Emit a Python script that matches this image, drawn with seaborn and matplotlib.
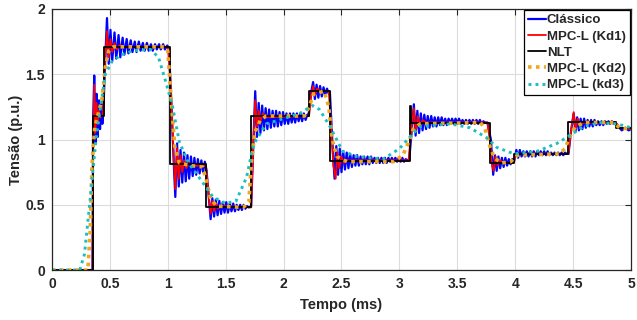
import matplotlib
matplotlib.use("Agg")
import matplotlib.pyplot as plt
import seaborn as sns
import pandas as pd

# Tempo (ms) / tensão (p.u.)
classico_t = [0.0, 0.35, 0.355, 0.365, 0.375, 0.385, 0.395, 0.405, 0.415, 0.425, 0.435, 0.445,
              0.46, 0.475, 0.49, 0.505, 0.52, 0.54, 0.555, 0.575, 0.59, 0.61, 0.625, 0.645, 0.66,
              0.68, 0.695, 0.715, 0.73, 0.75, 0.765, 0.785, 0.80, 0.82, 0.835, 0.855, 0.87, 0.89,
              0.905, 0.925, 0.94, 0.96, 0.975, 0.995, 1.01,
              1.03, 1.05, 1.065, 1.08, 1.095, 1.11, 1.125, 1.14, 1.155, 1.17, 1.185, 1.20, 1.215,
              1.23, 1.245, 1.26, 1.275, 1.29, 1.305, 1.32, 1.335,
              1.35, 1.37, 1.385, 1.40, 1.415, 1.43, 1.445, 1.46, 1.475, 1.49, 1.505, 1.52, 1.535,
              1.55, 1.565, 1.58, 1.595, 1.61, 1.625, 1.64, 1.655, 1.67, 1.685, 1.70, 1.72,
              1.74, 1.755, 1.77, 1.785, 1.80, 1.815, 1.83, 1.845, 1.86, 1.875, 1.89, 1.905, 1.92,
              1.935, 1.95, 1.965, 1.98, 1.995, 2.01, 2.025, 2.04, 2.055, 2.07, 2.085, 2.10, 2.115,
              2.13, 2.145, 2.16, 2.175, 2.19, 2.205, 2.215,
              2.235, 2.255, 2.27, 2.285, 2.30, 2.315, 2.33, 2.345, 2.36, 2.375, 2.39, 2.40,
              2.42, 2.44, 2.455, 2.47, 2.485, 2.50, 2.515, 2.53, 2.545, 2.56, 2.575, 2.59, 2.605,
              2.62, 2.635, 2.65, 2.665, 2.68, 2.695, 2.71, 2.725, 2.74, 2.755, 2.77, 2.785, 2.80,
              2.815, 2.83, 2.845, 2.86, 2.875, 2.89, 2.905, 2.92, 2.935, 2.95, 2.965, 2.98, 2.995,
              3.01, 3.025, 3.04, 3.055, 3.07, 3.085,
              3.10, 3.125, 3.14, 3.155, 3.17, 3.185, 3.20, 3.215, 3.23, 3.245, 3.26, 3.275, 3.29,
              3.305, 3.32, 3.335, 3.35, 3.365, 3.38, 3.395, 3.41, 3.425, 3.44, 3.455, 3.47, 3.485,
              3.50, 3.515, 3.53, 3.545, 3.56, 3.575, 3.59, 3.605, 3.62, 3.635, 3.65, 3.665, 3.68,
              3.695, 3.71, 3.725, 3.74, 3.76,
              3.79, 3.81, 3.825, 3.84, 3.855, 3.87, 3.885, 3.90, 3.915, 3.93, 3.945, 3.96, 3.975,
              3.99,
              4.01, 4.025, 4.04, 4.055, 4.07, 4.085, 4.10, 4.115, 4.13, 4.145, 4.16, 4.175, 4.19,
              4.205, 4.22, 4.235, 4.25, 4.265, 4.28, 4.295, 4.31, 4.325, 4.34, 4.355, 4.37, 4.385,
              4.40, 4.415, 4.43, 4.445, 4.46,
              4.48, 4.505, 4.52, 4.535, 4.55, 4.565, 4.58, 4.595, 4.61, 4.625, 4.64, 4.655, 4.67,
              4.685, 4.70, 4.715, 4.73, 4.745, 4.76, 4.775, 4.79, 4.805, 4.82, 4.835, 4.85, 4.865,
              4.89, 4.92, 4.95, 4.98, 5.0]
classico_v = [0.0, 0.0, 1.15, 1.49, 0.97, 1.35, 1.02, 1.30, 1.08, 1.27, 1.12, 1.25,
              1.62, 1.93, 1.58, 1.84, 1.60, 1.82, 1.62, 1.80, 1.63, 1.78, 1.65, 1.77, 1.66,
              1.76, 1.67, 1.75, 1.67, 1.75, 1.68, 1.74, 1.68, 1.74, 1.68, 1.73, 1.68, 1.73,
              1.69, 1.73, 1.69, 1.73, 1.69, 1.72, 1.70,
              1.30, 0.85, 0.56, 0.97, 0.64, 0.92, 0.67, 0.90, 0.68, 0.88, 0.70, 0.87, 0.72,
              0.86, 0.73, 0.85, 0.74, 0.84, 0.75, 0.83, 0.76,
              0.60, 0.39, 0.55, 0.41, 0.54, 0.42, 0.53, 0.43, 0.52, 0.44, 0.52, 0.44, 0.51,
              0.45, 0.51, 0.45, 0.50, 0.46, 0.50, 0.46, 0.50, 0.47, 0.49, 0.48, 0.49,
              1.00, 1.37, 1.02, 1.28, 1.05, 1.26, 1.07, 1.24, 1.08, 1.23, 1.09, 1.22, 1.10,
              1.22, 1.10, 1.21, 1.11, 1.21, 1.12, 1.20, 1.12, 1.20, 1.13, 1.20, 1.13, 1.20,
              1.14, 1.20, 1.14, 1.20, 1.15, 1.19, 1.18,
              1.35, 1.44, 1.31, 1.42, 1.32, 1.41, 1.33, 1.40, 1.34, 1.39, 1.35, 1.36,
              1.00, 0.70, 0.95, 0.73, 0.93, 0.75, 0.91, 0.77, 0.90, 0.78, 0.89, 0.79, 0.88,
              0.80, 0.88, 0.80, 0.87, 0.81, 0.87, 0.81, 0.87, 0.81, 0.87, 0.82, 0.86, 0.82,
              0.86, 0.82, 0.86, 0.82, 0.86, 0.82, 0.86, 0.83, 0.86, 0.83, 0.86, 0.83, 0.86,
              0.83, 0.86, 0.83, 0.85, 0.84, 0.85,
              1.00, 1.27, 1.03, 1.22, 1.05, 1.20, 1.07, 1.19, 1.08, 1.18, 1.09, 1.18, 1.10,
              1.17, 1.10, 1.17, 1.11, 1.17, 1.11, 1.16, 1.11, 1.16, 1.12, 1.16, 1.12, 1.16,
              1.12, 1.16, 1.12, 1.15, 1.12, 1.15, 1.12, 1.15, 1.12, 1.15, 1.12, 1.15, 1.12,
              1.15, 1.12, 1.14, 1.13, 1.13,
              1.00, 0.73, 0.88, 0.76, 0.87, 0.78, 0.86, 0.79, 0.86, 0.80, 0.85, 0.81, 0.85,
              0.83,
              0.92, 0.86, 0.92, 0.87, 0.91, 0.87, 0.91, 0.87, 0.91, 0.87, 0.91, 0.87, 0.91,
              0.88, 0.91, 0.88, 0.91, 0.88, 0.91, 0.88, 0.90, 0.88, 0.90, 0.88, 0.90, 0.88,
              0.90, 0.88, 0.90, 0.89, 0.89,
              1.05, 1.20, 1.06, 1.17, 1.07, 1.16, 1.08, 1.16, 1.09, 1.15, 1.10, 1.15, 1.10,
              1.15, 1.11, 1.14, 1.11, 1.14, 1.11, 1.14, 1.12, 1.14, 1.12, 1.14, 1.12, 1.13,
              1.10, 1.07, 1.09, 1.07, 1.08]

kd1_t = [0.0, 0.35, 0.355, 0.365, 0.375, 0.385, 0.395, 0.405, 0.42, 0.44, 0.455, 0.475,
         0.49, 0.505, 0.52, 0.54, 0.56, 0.58, 0.62, 1.0, 1.02, 1.05, 1.065, 1.08, 1.095,
         1.11, 1.125, 1.14, 1.16, 1.18, 1.22, 1.33, 1.35, 1.37, 1.385, 1.40, 1.415, 1.43,
         1.46, 1.72, 1.735, 1.755, 1.77, 1.785, 1.80, 1.82, 1.85, 2.22, 2.24, 2.255, 2.27,
         2.29, 2.32, 2.39, 2.41, 2.43, 2.45, 2.465, 2.48, 2.50, 2.52, 2.55, 3.08, 3.10,
         3.125, 3.14, 3.16, 3.18, 3.20, 3.23, 3.76, 3.78, 3.80, 3.815, 3.83, 3.85, 3.87,
         3.90, 3.98, 4.01, 4.46, 4.48, 4.505, 4.52, 4.54, 4.56, 4.59, 4.87, 4.90, 5.0]
kd1_v = [0.0, 0.0, 0.90, 1.42, 1.05, 1.28, 1.12, 1.22, 1.17, 1.19, 1.55, 1.83,
         1.63, 1.77, 1.67, 1.74, 1.69, 1.72, 1.71, 1.71, 1.50, 0.90, 0.62, 0.93, 0.70,
         0.88, 0.75, 0.84, 0.78, 0.82, 0.80, 0.80, 0.60, 0.43, 0.53, 0.45, 0.51, 0.47,
         0.49, 0.48, 0.90, 1.30, 1.10, 1.22, 1.14, 1.20, 1.17, 1.18, 1.35, 1.41, 1.34,
         1.39, 1.37, 1.37, 1.10, 0.80, 0.70, 0.90, 0.78, 0.87, 0.82, 0.84, 0.84, 1.05,
         1.24, 1.06, 1.18, 1.10, 1.15, 1.13, 1.13, 1.00, 0.80, 0.76, 0.87, 0.80, 0.84,
         0.82, 0.82, 0.89, 0.89, 1.05, 1.21, 1.08, 1.16, 1.11, 1.13, 1.13, 1.09, 1.08]

nlt_t = [0.0, 0.35, 0.45, 1.02, 1.33, 1.72, 2.22, 2.40, 3.09, 3.10, 3.78, 3.99, 4.46, 4.87, 5.0]
nlt_v = [0.0, 1.18, 1.71, 0.81, 0.485, 1.18, 1.37, 0.835, 1.26, 1.13, 0.82, 0.89, 1.135, 1.085, 1.085]

kd2_t = [0.0, 0.31, 0.33, 0.345, 0.37, 0.40, 0.43, 0.46, 0.49, 0.53, 0.97, 1.0, 1.03,
         1.06, 1.10, 1.20, 1.30, 1.33, 1.37, 1.42, 1.65, 1.70, 1.72, 1.75, 1.80, 1.85,
         2.18, 2.22, 2.26, 2.35, 2.39, 2.42, 2.46, 2.55, 2.95, 3.03, 3.08, 3.12, 3.18,
         3.70, 3.74, 3.78, 3.82, 3.88, 3.96, 4.02, 4.38, 4.43, 4.47, 4.52, 4.60, 4.85,
         4.90, 5.0]
kd2_v = [0.0, 0.0, 0.30, 0.80, 1.10, 1.20, 1.30, 1.55, 1.68, 1.71, 1.71, 1.68, 1.30,
         0.95, 0.82, 0.80, 0.79, 0.70, 0.55, 0.49, 0.48, 0.52, 0.80, 1.05, 1.15, 1.18,
         1.18, 1.25, 1.35, 1.37, 1.25, 1.00, 0.87, 0.83, 0.83, 0.88, 0.98, 1.08, 1.12,
         1.13, 1.08, 0.95, 0.86, 0.82, 0.83, 0.88, 0.89, 0.93, 1.02, 1.10, 1.13, 1.13,
         1.09, 1.08]

kd3_t = [0.0, 0.24, 0.28, 0.325, 0.38, 0.46, 0.52, 0.60, 0.70, 0.85, 0.92, 0.98, 1.04,
         1.10, 1.18, 1.27, 1.39, 1.50, 1.59, 1.68, 1.73, 1.76, 1.85, 2.00, 2.14, 2.25,
         2.31, 2.40, 2.51, 2.63, 2.86, 3.00, 3.09, 3.18, 3.44, 3.61, 3.76, 3.84, 3.99,
         4.19, 4.36, 4.47, 4.59, 4.73, 4.88, 5.0]
kd3_v = [0.0, 0.0, 0.12, 0.50, 1.00, 1.50, 1.60, 1.65, 1.68, 1.69, 1.63, 1.45, 1.26,
         0.98, 0.82, 0.71, 0.56, 0.51, 0.53, 0.71, 0.92, 0.99, 1.12, 1.16, 1.20, 1.26,
         1.23, 1.10, 0.91, 0.87, 0.85, 0.93, 1.02, 1.10, 1.12, 1.09, 1.01, 0.94, 0.89,
         0.91, 0.97, 1.03, 1.10, 1.13, 1.12, 1.09]

xticks = [0, 0.5, 1, 1.5, 2, 2.5, 3, 3.5, 4, 4.5, 5]
xtick_labels = ["0", "0.5", "1", "1.5", "2", "2.5", "3", "3.5", "4", "4.5", "5"]
yticks = [0, 0.5, 1, 1.5, 2]
ytick_labels = ["0", "0.5", "1", "1.5", "2"]

sns.set_style("white")
plt.rcParams["font.family"] = ["Liberation Sans", "DejaVu Sans"]
plt.rcParams["font.weight"] = "bold"

fig = plt.figure(figsize=(6.37, 3.2), dpi=100)
ax = fig.add_axes([0.0816, 0.156, 0.909, 0.816])

series = [
    ("Clássico", classico_t, classico_v, dict(color="#0000FF", lw=1.6)),
    ("MPC-L (Kd1)", kd1_t, kd1_v, dict(color="#FF0000", lw=1.3)),
    ("NLT", nlt_t, nlt_v, dict(color="black", lw=1.3, drawstyle="steps-post")),
    ("MPC-L (Kd2)", kd2_t, kd2_v, dict(color="#F0A81E", lw=2.6, linestyle=(0, (1, 1.2)))),
    ("MPC-L (kd3)", kd3_t, kd3_v, dict(color="#1BBFBF", lw=2.1, linestyle=(0, (1, 1.4)))),
]
for name, t, v, style in series:
    df = pd.DataFrame({"t": t, "v": v})
    sns.lineplot(data=df, x="t", y="v", ax=ax, label=name, estimator=None, sort=False, **style)

ax.set_xlim(0, 5)
ax.set_ylim(0, 2)
ax.set_xticks(xticks)
ax.set_xticklabels(xtick_labels)
ax.set_yticks(yticks)
ax.set_yticklabels(ytick_labels)
ax.grid(True, color="#DCDCDC", lw=0.8)
ax.tick_params(direction="in", top=True, right=True, length=4, labelsize=10, pad=5)
for s in ax.spines.values():
    s.set_color("#262626")
    s.set_linewidth(0.9)
ax.set_xlabel("Tempo (ms)", fontsize=10.5, fontweight="bold", labelpad=5)
ax.set_ylabel("Tensão (p.u.)", fontsize=10.5, fontweight="bold", labelpad=1.5)

leg = ax.legend(loc="upper right", frameon=True, fancybox=False,
                handlelength=1.3, handletextpad=0.1, borderpad=0.3, labelspacing=0.3,
                borderaxespad=0.1, prop={"weight": "bold", "size": 9.5})
leg.get_frame().set_edgecolor("black")
leg.get_frame().set_linewidth(0.9)
leg.get_frame().set_alpha(1)

fig.savefig("out.png", dpi=100)
